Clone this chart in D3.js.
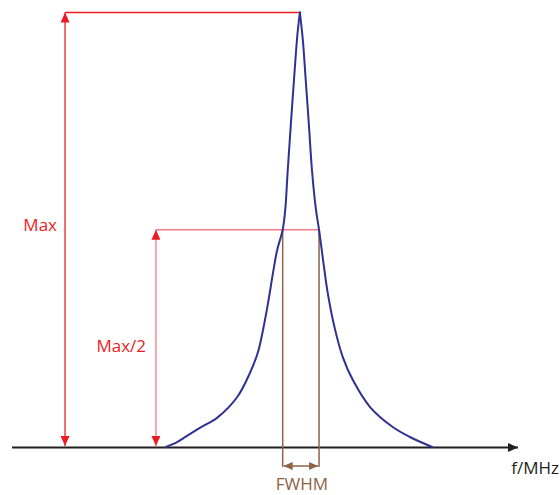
<!DOCTYPE html>
<html>
<head>
<meta charset="utf-8">
<script src="https://cdn.jsdelivr.net/npm/d3@7/dist/d3.min.js"></script>
<style>
  html, body { margin: 0; padding: 0; background: #fff; }
  svg { display: block; font-family: "Open Sans", "Noto Sans", sans-serif; }
</style>
</head>
<body>
<svg id="chart" width="560" height="495"></svg>
<script>
// Resonance line shape: frequency (arbitrary MHz units) vs. amplitude (% of max)
const freq = [30.5, 32.7, 33.9, 37.2, 40.6, 44.6, 47.1, 48.7, 49.7, 50.7, 51.7, 52.5, 53.6,
              54.1, 54.6, 55.2, 55.9, 56.5, 57.0,
              57.6, 58.1, 58.8, 59.4, 60.2, 60.8, 61.6, 62.6, 64.0, 65.5,
              67.5, 70.9, 75.4, 78.8, 83.2];
const amplitude = [0, 1.1, 2.0, 4.4, 6.7, 11.5, 17.0, 21.8, 26.9, 33.1, 40.2, 45.3, 50,
                   54.5, 63.7, 74.0, 85.5, 94.7, 100,
                   93.6, 85.5, 74.0, 63.7, 54.5, 50, 43.0, 34.9, 26.9, 20.7,
                   15.4, 9.2, 4.6, 2.3, 0];

const peakFreq = 57.0;
const maxValue = 100;
const halfValue = maxValue / 2;
const halfLow = 53.6;   // left half-maximum crossing
const halfHigh = 60.8;  // right half-maximum crossing

const labels = { max: "Max", half: "Max/2", fwhm: "FWHM", axis: "f/MHz" };

const svg = d3.select("#chart");
const x = d3.scaleLinear().domain([0, 100]).range([12, 517]);
const y = d3.scaleLinear().domain([0, 100]).range([447, 12.5]);

const RED = "#ed1c24", PINK = "#f37b82", BROWN = "#8d6446", BLUE = "#2e3192", INK = "#231f20";

const defs = svg.append("defs");
function marker(id, color, w, h) {
  defs.append("marker")
    .attr("id", id).attr("viewBox", `0 0 ${h} ${w}`)
    .attr("refX", h).attr("refY", w / 2)
    .attr("markerWidth", h).attr("markerHeight", w)
    .attr("markerUnits", "userSpaceOnUse")
    .attr("orient", "auto-start-reverse")
    .append("path").attr("d", `M0,0L${h},${w / 2}L0,${w}Z`).attr("fill", color);
}
marker("arRed", RED, 9, 10);
marker("arBrown", BROWN, 8, 9);
marker("arInk", INK, 9, 10);

// frequency axis with arrow
svg.append("line")
  .attr("x1", x(0)).attr("x2", x(100) + 1)
  .attr("y1", y(0) + 0.5).attr("y2", y(0) + 0.5)
  .attr("stroke", INK).attr("stroke-width", 2)
  .attr("marker-end", "url(#arInk)");

svg.append("text")
  .attr("x", 559).attr("y", 474).attr("text-anchor", "end")
  .attr("font-size", 17).attr("fill", INK).text(labels.axis);

// Max: reference line and double arrow
const maxX = 10.5;
svg.append("line")
  .attr("x1", x(maxX)).attr("x2", x(peakFreq) + 1)
  .attr("y1", y(maxValue)).attr("y2", y(maxValue))
  .attr("stroke", RED).attr("stroke-width", 1.5);
svg.append("line")
  .attr("x1", x(maxX)).attr("x2", x(maxX))
  .attr("y1", y(maxValue)).attr("y2", y(0) - 1)
  .attr("stroke", RED).attr("stroke-width", 1.3)
  .attr("marker-start", "url(#arRed)").attr("marker-end", "url(#arRed)");
svg.append("text")
  .attr("x", 57).attr("y", 231).attr("text-anchor", "end")
  .attr("font-size", 17).attr("fill", RED).text(labels.max);

// Max/2: reference line and double arrow
const halfX = 28.5;
svg.append("line")
  .attr("x1", x(halfX)).attr("x2", x(halfHigh))
  .attr("y1", y(halfValue)).attr("y2", y(halfValue))
  .attr("stroke", PINK).attr("stroke-width", 1.5);
svg.append("line")
  .attr("x1", x(halfX)).attr("x2", x(halfX))
  .attr("y1", y(halfValue)).attr("y2", y(0) - 1)
  .attr("stroke", PINK).attr("stroke-width", 1.3)
  .attr("marker-start", "url(#arRed)").attr("marker-end", "url(#arRed)");
svg.append("text")
  .attr("x", 146).attr("y", 352).attr("text-anchor", "end")
  .attr("font-size", 17).attr("fill", RED).text(labels.half);

// FWHM bracket
[halfLow, halfHigh].forEach(f => {
  svg.append("line")
    .attr("x1", x(f)).attr("x2", x(f))
    .attr("y1", y(halfValue)).attr("y2", y(0) + 20)
    .attr("stroke", BROWN).attr("stroke-width", 1.5);
});
svg.append("line")
  .attr("x1", x(halfLow) + 1).attr("x2", x(halfHigh) - 1)
  .attr("y1", y(0) + 19).attr("y2", y(0) + 19)
  .attr("stroke", BROWN).attr("stroke-width", 1.3)
  .attr("marker-start", "url(#arBrown)").attr("marker-end", "url(#arBrown)");
svg.append("text")
  .attr("x", (x(halfLow) + x(halfHigh)) / 2 + 1).attr("y", 490).attr("text-anchor", "middle")
  .attr("font-size", 17).attr("fill", BROWN).text(labels.fwhm);

// resonance curve: rising and falling flanks drawn smooth, meeting in a sharp peak
const pts = freq.map((f, i) => [f, amplitude[i]]);
const peakIdx = amplitude.indexOf(maxValue);
const flank = d3.line().x(d => x(d[0])).y(d => y(d[1])).curve(d3.curveCatmullRom.alpha(0.5));
const g = svg.append("g")
  .attr("fill", "none").attr("stroke", BLUE).attr("stroke-width", 2)
  .attr("stroke-linejoin", "round").attr("stroke-linecap", "round");
[pts.slice(0, peakIdx + 1), pts.slice(peakIdx)].forEach(seg => {
  g.append("path").datum(seg).attr("d", flank);
});
</script>
</body>
</html>
